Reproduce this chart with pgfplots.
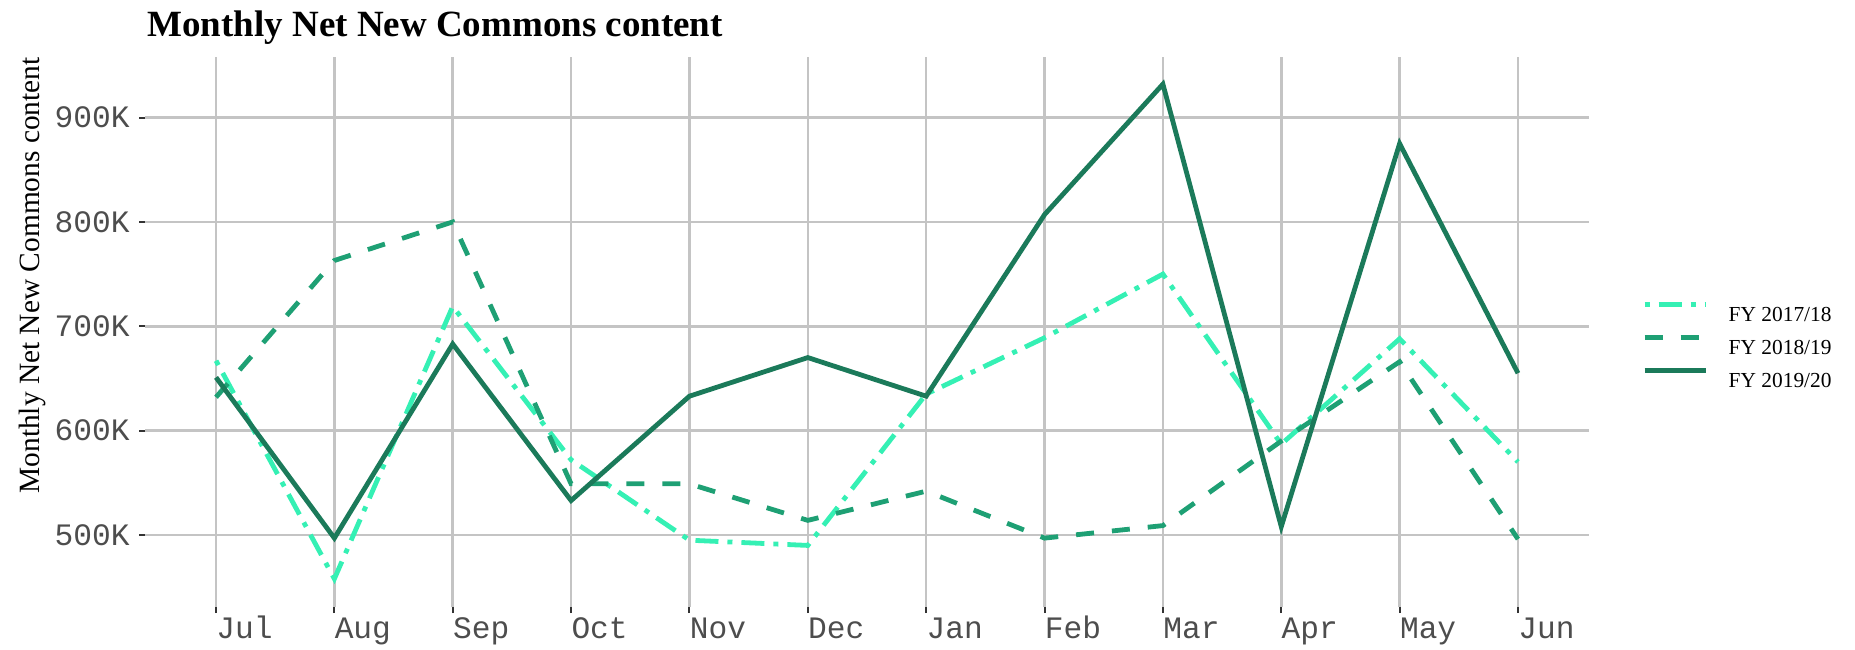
\documentclass[border=0pt]{standalone}
\usepackage{fontspec}
\setmainfont{Liberation Serif}
\newfontfamily\monofont{Liberation Mono}
\usepackage{pgfplots}
\pgfplotsset{compat=1.18}
\usepackage{pgfplotstable}

\definecolor{cA}{HTML}{35F0B4}
\definecolor{cB}{HTML}{1EA074}
\definecolor{cC}{HTML}{1B7A5A}
\definecolor{gridc}{HTML}{C4C4C4}
\definecolor{tickc}{HTML}{333333}
\definecolor{labc}{HTML}{4D4D4D}

\pgfplotstableread{
m A B C
0 667 632 651
1 458 763 497
2 719 800 683
3 572 549 533
4 495 549 633
5 490 514 670
6 635 542 633
7 689 497 807
8 750 509 932
9 587 590 508
10 688 666 875
11 570 496 655
}\datatable

\begin{document}
\begin{tikzpicture}
\path[use as bounding box] (0,0) rectangle (927.5bp,325bp);
\begin{axis}[
  at={(72.5bp,21.5bp)}, anchor=south west,
  scale only axis, width=722bp, height=275bp,
  xmin=-0.6, xmax=11.6, ymin=431, ymax=958,
  xtick={0,...,11},
  xticklabels={Jul,Aug,Sep,Oct,Nov,Dec,Jan,Feb,Mar,Apr,May,Jun},
  ytick={500,600,700,800,900},
  yticklabels={500K,600K,700K,800K,900K},
  minor tick num=0,
  axis line style={draw=none},
  tick align=outside, major tick length=3bp,
  tick style={color=tickc, line width=1bp},
  xtick pos=left, ytick pos=left,
  grid=major, major grid style={color=gridc, line width=1.3bp},
  xticklabel style={font=\monofont\fontsize{15.6bp}{18bp}\selectfont, text=labc, anchor=base west, inner sep=0pt, yshift=-12.5bp},
  yticklabel style={font=\monofont\fontsize{15.6bp}{18bp}\selectfont, text=labc, anchor=east, inner sep=0pt, xshift=-4.5bp},
  title={Monthly Net New Commons content},
  title style={at={(0,1)}, anchor=base west, yshift=4.4bp, xshift=1bp, inner sep=0pt, font=\bfseries\fontsize{18.5bp}{22bp}\selectfont},
  ylabel={Monthly Net New Commons content},
  ylabel style={at={(axis description cs:-0.0734,1)}, anchor=base east, inner sep=0pt, font=\fontsize{14.7bp}{17bp}\selectfont},
  legend style={at={(axis description cs:1.0365,0.5555)}, anchor=north west, draw=none, fill=none, inner sep=0pt,
    font=\fontsize{10.7bp}{12bp}\selectfont, row sep=5bp,
    nodes={inner sep=0pt},
    /tikz/every odd column/.append style={column sep=10.4bp}},
  legend cell align=left,
  legend image code/.code={\draw[#1] (0bp,6bp) -- (30.5bp,6bp);},
  every axis plot/.append style={line width=2.4bp, mark=none, line join=miter},
]
\addplot[cA, dash pattern=on 2.5bp off 4.5bp on 11.5bp off 4.5bp] table[x=m,y=A]{\datatable};
\addlegendentry{FY 2017/18}
\addplot[cB, dash pattern=on 9bp off 9bp] table[x=m,y=B]{\datatable};
\addlegendentry{FY 2018/19}
\addplot[cC] table[x=m,y=C]{\datatable};
\addlegendentry{FY 2019/20}
\end{axis}
\end{tikzpicture}
\end{document}
